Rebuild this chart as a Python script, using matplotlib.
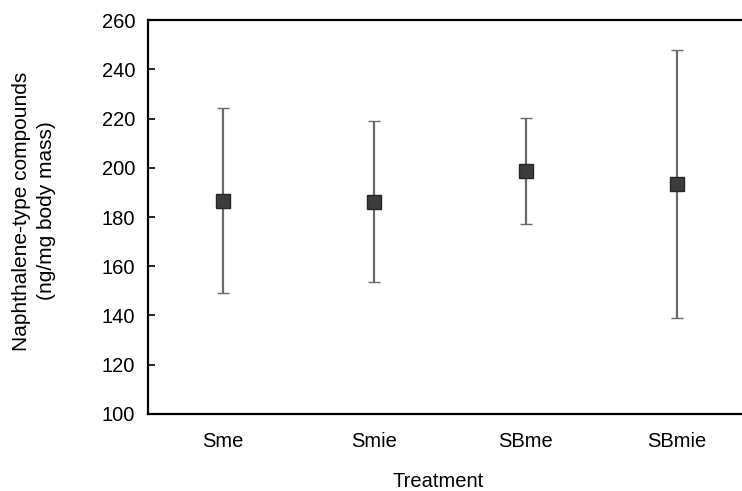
import matplotlib
matplotlib.use("Agg")
from matplotlib import pyplot as plt

# treatment means and error half-widths (ng/mg body mass)
treatments = ["Sme", "Smie", "SBme", "SBmie"]
means = [186.7, 186.2, 198.7, 193.4]
errors = [37.5, 32.7, 21.5, 54.5]
yticks = [100, 120, 140, 160, 180, 200, 220, 240, 260]

plt.rcParams["font.family"] = ["Liberation Sans", "DejaVu Sans"]

fig = plt.figure(figsize=(7.42, 4.91), dpi=100)
ax = fig.add_axes([0.199, 0.157, 0.815, 0.802])

x = list(range(len(treatments)))
ax.errorbar(x, means, yerr=errors, fmt="s", color="#606060", ecolor="#6a6a6a",
            elinewidth=1.6, capsize=4.5, capthick=1.6,
            markersize=10.3, markerfacecolor="#3c3c3c",
            markeredgecolor="#262626", markeredgewidth=1.0)

ax.set_xlim(-0.5, 3.5)
ax.set_ylim(100, 260)
ax.set_yticks(yticks)
ax.set_xticks(x)
ax.set_xticklabels(treatments)

for side in ["left", "bottom", "top", "right"]:
    ax.spines[side].set_linewidth(1.6)
    ax.spines[side].set_color("black")

ax.tick_params(axis="y", direction="in", length=5, width=1.2, labelsize=14.5, pad=9)
ax.tick_params(axis="x", length=0, labelsize=14.5, pad=13)

ax.set_xlabel("Treatment", fontsize=14.5)
ax.xaxis.set_label_coords(0.48, -0.148)
ax.set_ylabel("Naphthalene-type compounds\n(ng/mg body mass)", fontsize=15,
              linespacing=1.4)
ax.yaxis.set_label_coords(-0.151, 0.515)

fig.savefig("out.png", dpi=100)
